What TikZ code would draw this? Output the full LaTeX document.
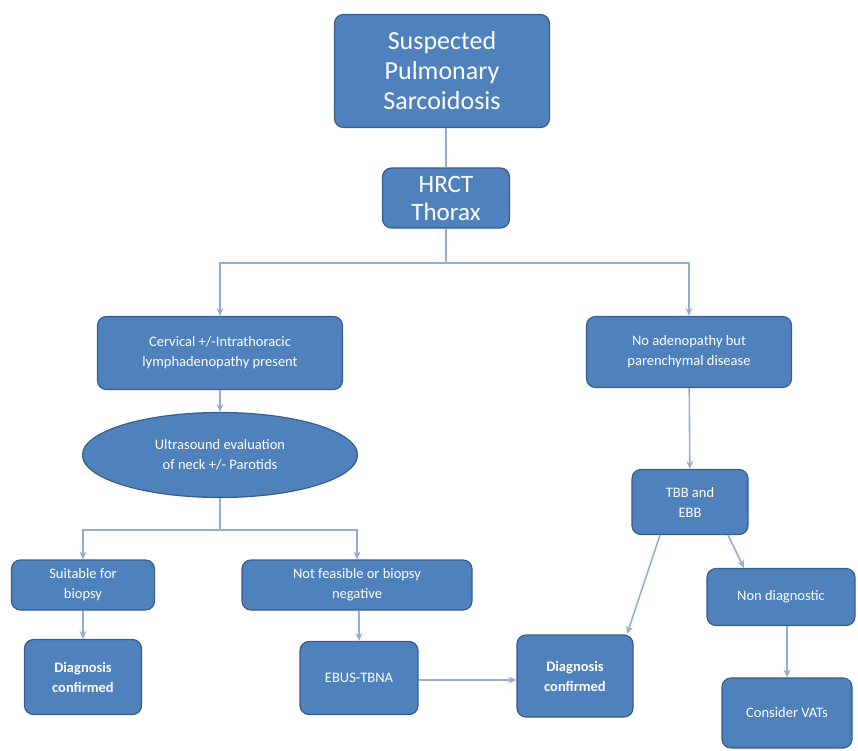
\documentclass[tikz,border=0pt]{standalone}
\usepackage{fontspec}
\setmainfont{Carlito}
\usetikzlibrary{arrows.meta,shapes.geometric}
\definecolor{boxfill}{HTML}{4F81BD}
\definecolor{boxline}{HTML}{385D8A}
\definecolor{conn}{HTML}{95AECF}
\tikzset{
  bx/.style={draw=boxline, line width=1.2pt, fill=boxfill, rounded corners=9pt, text=white, align=center, inner sep=2pt},
  sm/.style={font=\fontsize{14.5}{20}\selectfont},
  smb/.style={font=\fontsize{14.5}{20}\selectfont\bfseries},
  cn/.style={draw=conn, line width=1.6pt},
  ar/.style={cn, -{Stealth[length=8pt,width=7pt]}}
}
\begin{document}
\begin{tikzpicture}[x=1pt,y=-1pt]
\useasboundingbox (0,0) rectangle (858,751);
\node[bx, minimum width=215pt, minimum height=113pt, font=\fontsize{26}{30}\selectfont] (sus) at (442,71) {Suspected\\Pulmonary\\Sarcoidosis};
\node[bx, minimum width=127pt, minimum height=60pt, font=\fontsize{25}{28}\selectfont] (hrct) at (446,198) {HRCT\\Thorax};
\node[bx, sm, minimum width=245pt, minimum height=73pt] (cerv) at (220,353) {Cervical +/-Intrathoracic\\lymphadenopathy present};
\node[bx, sm, ellipse, minimum width=275pt, minimum height=85pt] (us) at (220,455) {Ultrasound evaluation\\of neck +/- Parotids};
\node[bx, sm, minimum width=205pt, minimum height=71pt] (noad) at (689,352) {No adenopathy but\\parenchymal disease};
\node[bx, sm, minimum width=116pt, minimum height=65pt] (tbb) at (690,502) {TBB and\\EBB};
\node[bx, sm, minimum width=143pt, minimum height=50pt] (suit) at (83,585) {Suitable for\\biopsy};
\node[bx, sm, minimum width=230pt, minimum height=50pt] (notf) at (357,585) {Not feasible or biopsy\\negative};
\node[bx, smb, minimum width=117pt, minimum height=75pt] (dc1) at (83,677) {Diagnosis\\confirmed};
\node[bx, sm, minimum width=118pt, minimum height=73pt] (ebus) at (359,678) {EBUS-TBNA};
\node[bx, smb, minimum width=116pt, minimum height=82pt] (dc2) at (575,676) {Diagnosis\\confirmed};
\node[bx, sm, minimum width=148pt, minimum height=57pt] (nond) at (781,597) {Non diagnostic};
\node[bx, sm, minimum width=130pt, minimum height=70pt] (vats) at (787,713) {Consider VATs};
% connectors
\draw[cn] (hrct.north |- sus.south) -- (hrct.north);
\coordinate (split) at (446,263);
\draw[cn] (hrct.south) -- (split);
\draw[ar] (split) -| (cerv.north);
\draw[ar] (split) -| (noad.north);
\draw[ar] (cerv) -- (us);
\coordinate (split2) at (220,530);
\draw[cn] (us.south) -- (split2);
\draw[ar] (split2) -| (suit.north);
\draw[ar] (split2) -| (notf.north);
\draw[ar] (suit) -- (dc1);
\draw[ar] (notf.south -| ebus.north) -- (ebus.north);
\draw[ar] (noad) -- (tbb);
\coordinate (ebr) at ([yshift=-2pt]ebus.east);
\draw[ar] (ebr) -- (ebr -| dc2.west);
\coordinate (tbbl) at (660,535);
\coordinate (tbbr) at (728,535);
\draw[ar] (tbbl) -- (627,634);
\draw[ar] (tbbr) -- (744,568);
\draw[ar] (nond.south -| vats.north) -- (vats.north);
\end{tikzpicture}
\end{document}
